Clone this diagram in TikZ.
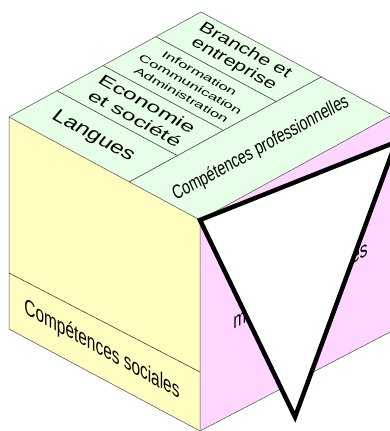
\documentclass[tikz,border=0pt]{standalone}
\usepackage{fontspec}
\setmainfont{Liberation Sans}
\definecolor{faceyellow}{RGB}{255,253,192}
\definecolor{facegreen}{RGB}{230,255,230}
\definecolor{facepink}{RGB}{255,214,255}
\begin{document}
\begin{tikzpicture}[x=1pt,y=1pt,
  edge/.style={draw=black!70, line width=0.5pt},
  divider/.style={draw=black!85, line width=0.5pt},
  facetxt/.style={font=\fontsize{10}{12}\selectfont, inner sep=0pt, transform shape, align=center},
  triangle/.style={draw=black, line width=4.5pt, fill=white, line join=miter}]
\useasboundingbox (0,0) rectangle (390,431);
\clip (0,0) rectangle (390,431);
% cube corners
\coordinate (L) at (9,314);
\coordinate (F) at (200,211);
\coordinate (B) at (201,419);
\coordinate (R) at (392,316);
\coordinate (LB) at (9,102);
\coordinate (FB) at (200,0);
\coordinate (RB) at (392,100);
\coordinate (DL) at (9,158);
\coordinate (DF) at (200,59);
% faces
\fill[faceyellow] (L) -- (F) -- (FB) -- (LB) -- cycle;
\fill[facepink] (F) -- (R) -- (RB) -- (FB) -- cycle;
\fill[facegreen] (L) -- (F) -- (R) -- (B) -- cycle;
\draw[edge] (L) -- (F) -- (FB) -- (LB) -- cycle;
\draw[edge] (F) -- (R) -- (RB) -- (FB);
\draw[edge] (L) -- (B) -- (R);
\draw[divider] (DL) -- (DF);
% top face dividers
\begin{scope}[shift={(9,314)}, x={(191pt,-103pt)}, y={(192pt,105pt)}]
  \coordinate (a0) at (0,0.25);  \coordinate (a1) at (0.63,0.25);
  \coordinate (b0) at (0,0.49);  \coordinate (b1) at (0.63,0.49);
  \coordinate (c0) at (0,0.765); \coordinate (c1) at (0.63,0.765);
  \coordinate (d0) at (0.63,0);  \coordinate (d1) at (0.63,1);
  \draw[divider] (a0) -- (a1);
  \draw[divider] (b0) -- (b1);
  \draw[divider] (c0) -- (c1);
  \draw[divider] (d0) -- (d1);
  \coordinate (pLang) at (0.315,0.125);
  \coordinate (pEco) at (0.32,0.37);
  \coordinate (pInfo) at (0.32,0.627);
  \coordinate (pBr) at (0.32,0.882);
  \coordinate (pPro) at (0.815,0.5);
\end{scope}
% texts on top face
\node[facetxt, cm={2.06,-1.133,1.22,1.455,(0,0)}] (langues) at (pLang) {Langues};
\node[facetxt, cm={2.10,-1.157,1.03,1.226,(0,0)}] (eco) at (pEco) {Economie\\et société};
\node[facetxt, font=\fontsize{10}{13.5}\selectfont, cm={1.45,-0.798,0.675,0.804,(0,0)}] (info) at (pInfo) {Information\\Communication\\Administration};
\node[facetxt, font=\fontsize{10}{11}\selectfont, cm={1.84,-1.012,1.03,1.226,(0,0)}] (branche) at (pBr) {Branche et\\entreprise};
\node[facetxt, cm={1.272,0.696,-0.80,1.78,(0,0)}] (pro) at (pPro) {Compétences professionnelles};
% left face text
\node[facetxt, cm={1.542,-0.848,0,2.25,(0,0)}] (soc) at (102,81) {Compétences sociales};
% right face fragments
\node[facetxt, anchor=base west, cm={1.542,0.848,0,2.2,(0,0)}] (fragm) at (233,101) {m};
\node[facetxt, anchor=base east, cm={1.542,0.848,0,2.2,(0,0)}] (frages) at (368,176) {es};
% triangle
\coordinate (T2) at (396,289);
\coordinate (T3) at (295,14);
\draw[triangle] (F) -- (T2) -- (T3) -- cycle;
\end{tikzpicture}
\end{document}
